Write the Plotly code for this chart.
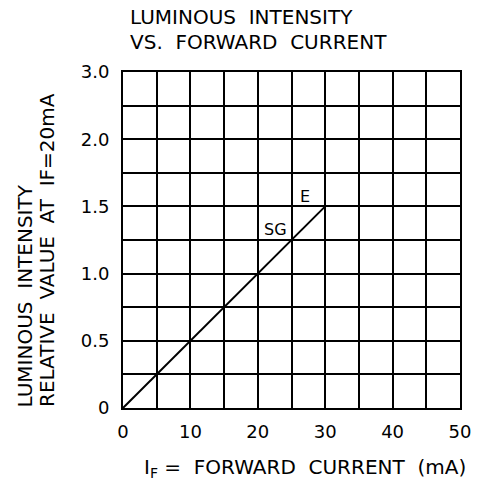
import plotly.graph_objects as go

# Data
current_ma = [0, 30]
rel_intensity = [0, 1.5]

x_tickvals = [0, 10, 20, 30, 40, 50]
x_ticktext = ["0", "10", "20", "30", "40", "50"]
x_minor_vals = [5, 15, 25, 35, 45]
# Original chart's y scale: 0..2.0 linear in 0.25 steps, then top gridline labelled 3.0
y_tickvals = [0, 0.5, 1.0, 1.5, 2.0, 2.5]
y_ticktext = ["0", "0.5", "1.0", "1.5", "2.0", "3.0"]
y_minor_vals = [0.25, 0.75, 1.25, 1.75, 2.25]

series_labels = ["E", "SG"]
label_x = [27.0, 22.6]
label_y = [1.57, 1.33]

FONT = "DejaVu Sans"

fig = go.Figure()
fig.add_trace(go.Scatter(x=current_ma, y=rel_intensity, mode="lines",
                         line=dict(color="black", width=2), showlegend=False,
                         hoverinfo="skip"))

for t, lx, ly in zip(series_labels, label_x, label_y):
    fig.add_annotation(x=lx, y=ly, text=t, showarrow=False, xref="x", yref="y",
                       font=dict(family=FONT, size=16, color="black"))

fig.update_xaxes(range=[0, 50], tickvals=x_tickvals, ticktext=x_ticktext,
                 showgrid=True, gridcolor="black", gridwidth=2, automargin=False,
                 minor=dict(tickvals=x_minor_vals, showgrid=True, gridcolor="black",
                            gridwidth=2, ticks=""),
                 showline=True, linecolor="black", linewidth=2, mirror=True,
                 zeroline=False, ticks="outside", ticklen=6, tickcolor="rgba(0,0,0,0)",
                 tickfont=dict(family=FONT, size=18, color="black"))
fig.update_yaxes(range=[0, 2.5], tickvals=y_tickvals, ticktext=y_ticktext,
                 showgrid=True, gridcolor="black", gridwidth=2, automargin=False,
                 minor=dict(tickvals=y_minor_vals, showgrid=True, gridcolor="black",
                            gridwidth=2, ticks=""),
                 showline=True, linecolor="black", linewidth=2, mirror=True,
                 zeroline=False, ticks="outside", ticklen=8, tickcolor="rgba(0,0,0,0)",
                 tickfont=dict(family=FONT, size=18, color="black"))

# Title
fig.add_annotation(x=0.015, y=1.164, xref="paper", yref="paper", xanchor="left",
                   yanchor="middle", text="LUMINOUS  INTENSITY", showarrow=False,
                   font=dict(family=FONT, size=20, color="black"))
fig.add_annotation(x=0.015, y=1.089, xref="paper", yref="paper", xanchor="left",
                   yanchor="middle", text="VS.  FORWARD  CURRENT", showarrow=False,
                   font=dict(family=FONT, size=20, color="black"))

# Y axis title (two lines, bottom aligned)
fig.add_annotation(x=-0.291, y=-0.003, xref="paper", yref="paper", xanchor="center",
                   yanchor="bottom", text="LUMINOUS  INTENSITY", textangle=-90,
                   showarrow=False, font=dict(family=FONT, size=20, color="black"))
fig.add_annotation(x=-0.2255, y=-0.003, xref="paper", yref="paper", xanchor="center",
                   yanchor="bottom", text="RELATIVE  VALUE  AT  IF=20mA", textangle=-90,
                   showarrow=False, font=dict(family=FONT, size=20, color="black"))

# X axis title
fig.add_annotation(x=0.056, y=-0.179, xref="paper", yref="paper", xanchor="left",
                   yanchor="middle", text="I<sub>F</sub> =  FORWARD  CURRENT  (mA)",
                   showarrow=False, font=dict(family=FONT, size=20, color="black"))

fig.update_layout(width=477, height=484, margin=dict(l=123, r=17, t=72, b=76),
                  plot_bgcolor="white", paper_bgcolor="white")

fig.write_html("out.html", config={"displayModeBar": False},
               post_script="document.body.style.margin='0';document.body.style.padding='0';")
